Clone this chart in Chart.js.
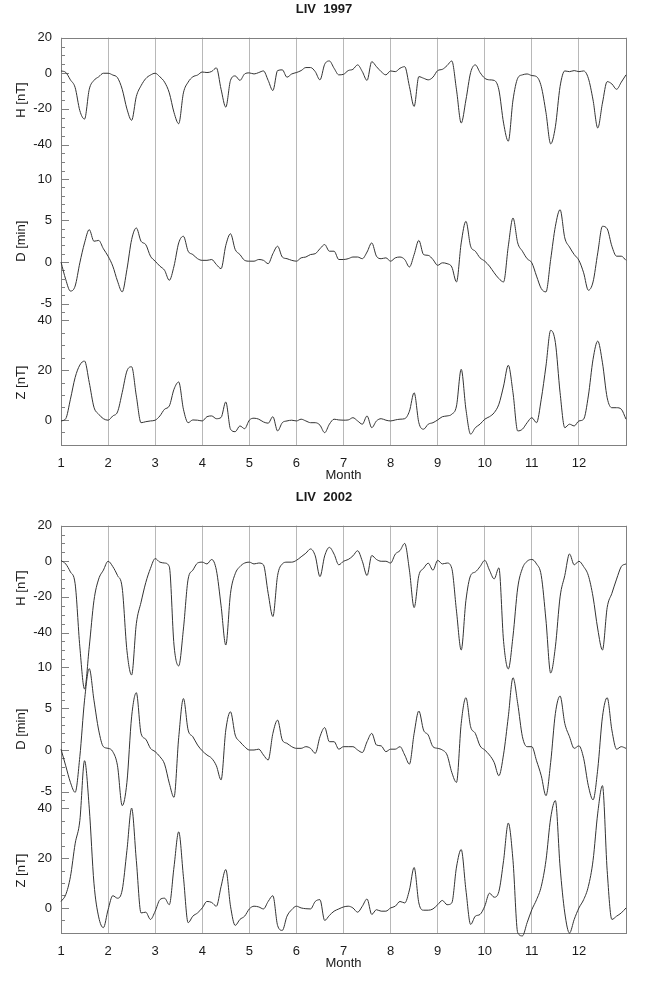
<!DOCTYPE html>
<html>
<head>
<meta charset="utf-8">
<script src="https://cdn.jsdelivr.net/npm/chart.js@4.4.1/dist/chart.umd.min.js"></script>
<style>
  html, body { margin: 0; padding: 0; background: #fff; }
  body { width: 664px; height: 984px; position: relative; overflow: hidden; }
  .panel { position: absolute; left: 0; width: 664px; height: 484px; }
</style>
</head>
<body>
<div class="panel" style="top:0"><canvas id="chart1997"></canvas></div>
<div class="panel" style="top:488px"><canvas id="chart2002"></canvas></div>
<script>
// Sampling grid: months 1.0 .. 13.0 in steps of 0.1 (121 samples)
const monthGrid = Array.from({ length: 121 }, (_, i) => 1 + i / 10);
const monthTicks = [1, 2, 3, 4, 5, 6, 7, 8, 9, 10, 11, 12];

// LIV 1997 - H [nT]
const h1997 = [
  1.3, 0.5, -3.7, -8, -21, -25.7, -9, -4, -2, 0,
  0, -1, -2.5, -9, -20, -26.4, -13, -7, -3, -1,
  0, -2, -5, -11, -22, -28.3, -11, -5, -2, -1,
  0.7, 0.4, 1, 3, -9, -19, -4, -1.5, -4, -0.4,
  0.2, -0.4, 0.4, 1.3, -4, -9.7, 1.5, 1.9, -2.2, -0.4,
  0.4, 1.5, 3.2, 3.2, 0.9, -3.7, 5, 6.9, 2.8, -0.9,
  -0.6, 1.5, 2.2, 4.7, 0.9, -4, 6.5, 3.7, 0.9, -0.9,
  1.3, 0.9, 2.8, 3.7, -7.4, -18.6, -1.9, -2.8, -3.7, -2.2,
  1.5, 2.2, 4.3, 6.9, -9.3, -27.9, -15, 0.4, 4.7, 0.4,
  -2.8, -3.7, -4, -9.3, -28, -38.1, -15, -2.8, -0.9, -0.4,
  -1.3, -1.9, -7.4, -22, -39.6, -30, -7.4, 1.3, 0.9, 1.5,
  0.9, 1.3, -2.8, -15, -30.7, -16.7, -4.7, -6, -9, -5,
  -0.9
];
// LIV 1997 - D [min]
const d1997 = [
  0, -2.1, -3.5, -2.9, -0.1, 2.3, 3.9, 2.5, 2.6, 1.6,
  0.7, -0.5, -2.3, -3.6, -0.9, 2.7, 4.1, 2.5, 2.1, 0.7,
  0.1, -0.5, -1, -2.2, -0.5, 2.3, 3.1, 1.3, 0.9, 0.4,
  0.2, 0.2, 0.3, -0.3, -0.8, 2, 3.4, 1.5, 0.9, 0.2,
  0.1, 0.1, 0.3, 0.2, -0.2, 1, 1.9, 0.6, 0.4, 0.2,
  0.1, 0.5, 0.6, 0.9, 1, 1.6, 2.1, 1.3, 1.3, 0.3,
  0.3, 0.4, 0.6, 0.6, 0.4, 1.2, 2.3, 0.7, 0.4, 0.5,
  0.1, 0.5, 0.6, 0.3, -0.6, 0.9, 2.6, 0.9, 0.8, 0.3,
  -0.4, -0.1, -0.2, -0.6, -2.4, 2.3, 4.9, 1.9, 1.3, 0.5,
  0.1, -0.5, -1.3, -2, -2.4, 1.9, 5.3, 2.3, 1.3, 0.4,
  -0.1, -1.7, -3.2, -3.6, 0.3, 4.3, 6.3, 2.9, 1.8, 0.9,
  0.2, -1.3, -3.4, -2.4, 1.1, 4.3, 4, 1.9, 0.7, 0.7,
  0.2
];
// LIV 1997 - Z [nT]
const z1997 = [
  -0.4, 0.5, 8.3, 17, 22, 23.6, 15, 5.1, 2.3, 0.5,
  -0.1, 1.6, 3.2, 11, 19.6, 21.3, 9.6, -1.1, -0.7, -0.4,
  -0.1, 1.6, 4.3, 5.6, 12.3, 15.2, 4.3, -1.1, 0, -0.1,
  -0.4, 1.3, 1.6, 0.5, 1, 7.2, -3.7, -4.7, -2.4, -3.5,
  -0.1, 0.7, 0.3, -0.8, -1.3, 1.3, -4.4, -1.1, -0.4, -0.1,
  -0.4, 0.3, -0.4, -1.1, -1.1, -2.1, -5.1, -1.7, 0.3, 0,
  -0.1, 0, 0.9, -0.4, -1.7, 1.6, -3.1, -0.4, 0.5, -0.1,
  -0.4, 0, 0.3, 0.5, 3.5, 10.9, -1.1, -3.7, -1.7, -1.1,
  0, 1.3, 1.6, 2.3, 5.6, 20.3, 4.3, -5.7, -3.1, -1.7,
  0.3, 1.3, 2.9, 6.3, 13.6, 21.9, 10.9, -4.4, -3.7, -1.1,
  0.9, -1.1, 8.3, 21.6, 35.9, 31, 10.9, -3.1, -1.7, -2.4,
  -0.4, 0.3, 9.6, 24.3, 31.6, 22.9, 8.9, 4.9, 4.9, 4.3,
  0.3
];

// LIV 2002 - H [nT]
const h2002 = [
  0.4, -1.5, -6, -12.6, -48, -71.7, -48, -22, -10, -5,
  0, -3, -8, -15, -50, -63.8, -35, -23, -12, -4,
  1.5, -0.5, -1, -3, -47, -58.7, -38, -10, -5, -1,
  -0.5, -1.5, 1, -5, -25, -47, -18, -7, -3, -1,
  -0.5, -1.5, -1, -2, -18, -31, -8, -1.5, -0.5, -0.5,
  0.5, 2.5, 4.5, 6.9, 3, -8.6, 3, 7.8, 4, -2,
  0, 1, 3, 5.9, 0, -8, 3.2, 1, 0, 0,
  -1, 4, 6, 10, -5, -26, -8, -4, -1.1, -5,
  0.5, -1.5, -1, -4, -28, -49.8, -22, -8, -6, -3,
  0.5, -5, -9.9, -3.7, -45, -60.4, -42, -15, -4, 0,
  1, -1.5, -8, -33, -62.7, -48, -20, -8, 4.1, -2,
  0, -3, -8, -20, -38, -49.8, -26, -18, -10, -3,
  -1.5
];
// LIV 2002 - D [min]
const d2002 = [
  0.1, -1.9, -3.9, -5.1, -0.8, 6, 9.8, 6, 2.4, 0.4,
  0.2, -0.2, -1.9, -6.7, -3.9, 4, 6.9, 2, 1.3, 0.2,
  -0.2, -0.8, -1.7, -4, -5.7, 1.5, 6.2, 2.4, 1.6, 0.6,
  -0.1, -0.6, -1, -1.9, -3.6, 2.4, 4.6, 1.8, 1, 0.4,
  0, 0, 0.1, -0.6, -1.2, 2, 3.6, 1.2, 0.8, 0.4,
  0.2, 0.2, 0.4, 0.2, -0.4, 1.6, 2.7, 1, 1, 0.1,
  0.4, 0.4, 0.4, 0, -0.3, 1, 2, 0.6, 0.5, -0.2,
  0.1, 0.1, 0.4, -0.6, -1.7, 2, 4.7, 2.4, 1.8, 0.4,
  0.2, 0, -0.6, -2.7, -3.9, 3.2, 6.3, 2.8, 2, 0.5,
  0, -0.6, -1.5, -3.1, -0.5, 4, 8.7, 5.6, 1.6, 0.4,
  0.4, -1.3, -3.1, -5.5, -1.5, 4.4, 6.5, 3.2, 1.6, 0.2,
  0.5, -1, -4.3, -6, -2.3, 4, 6.3, 2.4, 0.1, 0.4,
  0.2
];
// LIV 2002 - Z [nT]
const z2002 = [
  2.6, 5.3, 12.5, 25.7, 35, 59, 40, 9.9, -3.6, -7.9,
  -0.7, 4.9, 3.9, 7.2, 23, 40, 19, -2, -1.7, -4.6,
  -1.3, 3.3, 3.9, 1.3, 16.4, 30.5, 12.5, -5.9, -3.3, -2,
  0, 2.6, 2.2, 0.7, 8.6, 15.4, 0.7, -7, -4.6, -3.3,
  -0.4, 0.7, 0.4, -0.4, 2.6, 4.9, -7, -9, -3.3, -0.7,
  0.7, 0, -0.3, -0.4, 2.6, 3.3, -5, -3, -1.3, -0.4,
  0.4, 0.7, 0, -1.7, 0.7, 3.6, -2.6, -0.7, -1.3, -1.3,
  0, 0.7, 2.6, 2, 7.2, 16.2, 2, -0.9, -0.9, -0.4,
  1.3, 3, 1.3, 2, 16.4, 23.4, 7.2, -6.6, -3.3, -2.6,
  0.7, 5.9, 4.3, 6.6, 19, 34, 19, -9.9, -11.2, -5.9,
  -0.7, 3.3, 8.6, 19, 36, 43, 16.4, -2, -10.1, -4.6,
  0, 3.3, 8.6, 19, 38, 49, 15, -4.6, -3.3, -2,
  0
];

Chart.defaults.font.family = "'Liberation Sans', Arial, sans-serif";
Chart.defaults.font.size = 13;
Chart.defaults.color = '#1a1a1a';

// Rahmen und nach innen gerichtete Ticks der drei y-Achsen
const framePlugin = {
  id: 'frame',
  beforeDatasetsDraw(chart) {
    const { ctx, chartArea: a, scales } = chart;
    ctx.save();
    ctx.strokeStyle = '#808080';
    ctx.lineWidth = 1;
    ctx.strokeRect(Math.round(a.left) + 0.5, Math.round(a.top) + 0.5,
      Math.round(a.right - a.left), Math.round(a.bottom - a.top));
    ['yH', 'yD', 'yZ'].forEach(id => {
      const s = scales[id];
      s.ticks.forEach(t => {
        const y = Math.round(s.getPixelForValue(t.value)) + 0.5;
        const len = t.label !== '' ? 8 : 4;
        ctx.beginPath();
        ctx.moveTo(a.left, y);
        ctx.lineTo(a.left + len, y);
        ctx.stroke();
      });
    });
    ctx.restore();
  }
};

function toPoints(values) {
  return monthGrid.map((m, i) => ({ x: m, y: values[i] }));
}

function yAxis(title, min, max, step, major, weight, stackWeight) {
  return {
    type: 'linear',
    position: 'left',
    stack: 'panel',
    stackWeight: stackWeight,
    weight: weight,
    min: min,
    max: max,
    grid: { display: false, drawTicks: false },
    border: { display: false },
    ticks: {
      stepSize: step,
      autoSkip: false,
      padding: 9,
      callback: v => (v % major === 0 ? String(v) : '')
    },
    title: { display: true, text: title, padding: { top: -8, bottom: 0 } },
    afterFit: s => { s.width = 39; }
  };
}

function criarPainel(canvasId, titulo, hVals, dVals, zVals) {
  const lineStyle = {
    borderColor: '#333333',
    borderWidth: 1,
    pointRadius: 0,
    fill: false,
    clip: false,
    cubicInterpolationMode: 'monotone'
  };
  new Chart(document.getElementById(canvasId), {
    type: 'line',
    data: {
      datasets: [
        Object.assign({ label: 'H', data: toPoints(hVals), yAxisID: 'yH' }, lineStyle),
        Object.assign({ label: 'D', data: toPoints(dVals), yAxisID: 'yD' }, lineStyle),
        Object.assign({ label: 'Z', data: toPoints(zVals), yAxisID: 'yZ' }, lineStyle)
      ]
    },
    options: {
      responsive: true,
      maintainAspectRatio: false,
      animation: false,
      events: [],
      layout: { padding: { left: 22, right: 38, top: 0, bottom: 0 } },
      plugins: {
        legend: { display: false },
        tooltip: { enabled: false },
        title: {
          display: true,
          text: titulo,
          font: { size: 13, weight: 'bold' },
          color: '#1a1a1a',
          padding: { top: 2, bottom: 20 }
        }
      },
      scales: {
        x: {
          type: 'linear',
          min: 1,
          max: 13,
          grid: { color: '#b8b8b8', lineWidth: 1, drawTicks: false },
          border: { display: false },
          ticks: {
            stepSize: 1,
            padding: 12,
            font: { lineHeight: 1 },
            callback: v => (monthTicks.includes(v) ? String(v) : '')
          },
          title: { display: true, text: 'Month', padding: { top: -14.5, bottom: 1 } }
        },
        yZ: yAxis('Z [nT]', -10, 40, 5, 20, 1, 125),
        yD: yAxis('D [min]', -7, 12, 1, 5, 2, 158),
        yH: yAxis('H [nT]', -50, 20, 5, 20, 3, 125)
      }
    },
    plugins: [framePlugin]
  });
}

criarPainel('chart1997', 'LIV  1997', h1997, d1997, z1997);
criarPainel('chart2002', 'LIV  2002', h2002, d2002, z2002);
</script>
</body>
</html>
